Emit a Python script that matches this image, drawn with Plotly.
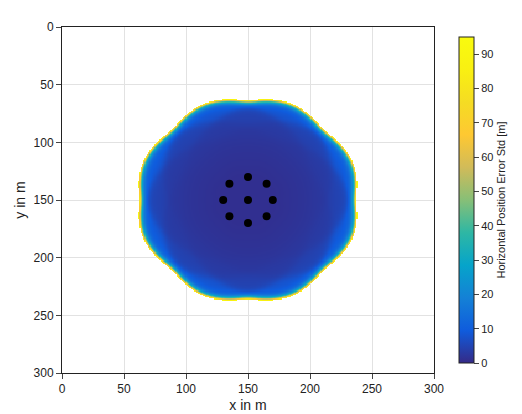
import numpy as np
import plotly.graph_objects as go

# anchor positions (m)
anchor_x = [150, 135, 165, 130, 150, 170, 135, 165, 150]
anchor_y = [130, 136, 136, 150, 150, 150, 164, 164, 170]
ranging_std = 1.5      # m, at short range
range_scale = 68.0     # m, distance where ranging noise starts to blow up
range_power = 34
error_cap = 95.0
grid = np.arange(0, 301, 1.0)

parula = [
    [0.0, "#352a87"], [0.1, "#0f5cdd"], [0.2, "#1481d6"], [0.3, "#06a4ca"],
    [0.4, "#2eb7a4"], [0.5, "#87bf77"], [0.6, "#d1bb59"], [0.7, "#fec832"],
    [0.8, "#f5dc23"], [0.9, "#f9f012"], [1.0, "#f9fb0e"],
]

ax = np.array(anchor_x, float)
ay = np.array(anchor_y, float)
X, Y = np.meshgrid(grid, grid)
Z = np.full(X.shape, np.nan)
for i in range(X.shape[0]):
    for j in range(X.shape[1]):
        dx = X[i, j] - ax
        dy = Y[i, j] - ay
        d = np.maximum(np.hypot(dx, dy), 1e-6)
        s = ranging_std * (1 + (d / range_scale) ** range_power)
        w = 1 / s ** 2
        H = np.column_stack([dx / d, dy / d])
        A = H.T @ (H * w[:, None])
        try:
            e = np.sqrt(np.trace(np.linalg.inv(A)))
        except np.linalg.LinAlgError:
            continue
        if e <= error_cap:
            Z[i, j] = e

fig = go.Figure()
fig.add_trace(go.Heatmap(
    x=grid, y=grid, z=Z, colorscale=parula, zmin=0, zmax=95,
    colorbar=dict(
        title=dict(text="Horizontal Position Error Std [m]", side="right",
                   font=dict(size=11)),
        tickvals=list(range(0, 100, 10)), thickness=15, len=1.0, y=0.5,
        x=1.04, outlinecolor="#222", outlinewidth=1, ticks="outside",
        tickfont=dict(size=11),
    ),
))
fig.add_trace(go.Scatter(
    x=anchor_x, y=anchor_y, mode="markers",
    marker=dict(color="black", size=8), showlegend=False,
))
axis = dict(range=[0, 300], dtick=50, showgrid=True, gridcolor="#e2e2e2",
            zeroline=False, mirror=True, showline=True, linecolor="#222",
            ticks="outside", tickfont=dict(size=12, color="#222"))
fig.update_layout(
    width=522, height=414, margin=dict(l=48, r=89, t=16, b=42),
    plot_bgcolor="white", paper_bgcolor="white",
    font=dict(family="Liberation Sans, Arial", color="#222"),
    xaxis=dict(axis, title=dict(text="x in m", standoff=4)),
    yaxis=dict(axis, range=[300, 0], title=dict(text="y in m", standoff=4)),
)
fig.write_html("out.html")
